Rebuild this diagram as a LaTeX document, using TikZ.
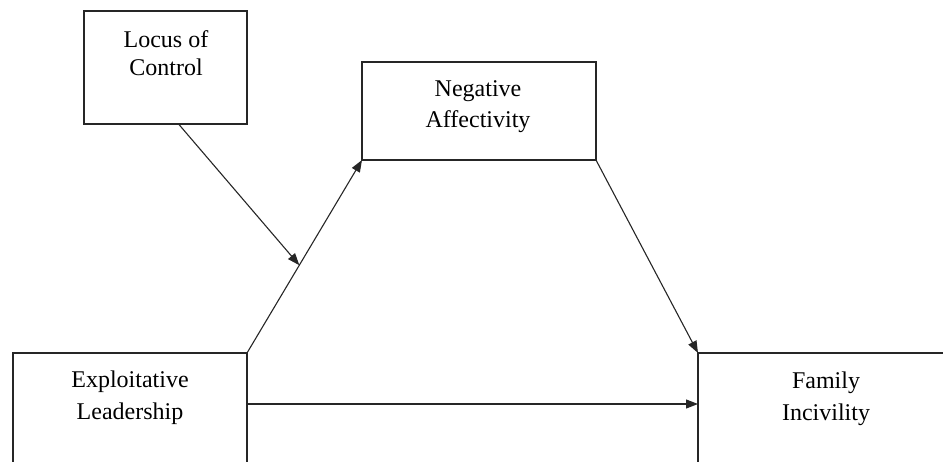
\documentclass[tikz,border=0pt]{standalone}
\usepackage{fontspec}
\setmainfont{Liberation Serif}
\usetikzlibrary{arrows.meta,calc}
\begin{document}
\begin{tikzpicture}[x=1pt,y=-1pt,
  box/.style={draw=black!85, line width=1.1pt, inner sep=0pt, outer sep=0pt, rectangle},
  lbl/.style={anchor=base, inner sep=0pt, font=\fontsize{24}{30}\selectfont, text=black},
  arr/.style={draw=black!85, line width=1.1pt, -{Triangle[length=12pt,width=9pt]}}]
\useasboundingbox (0,0) rectangle (943,461);
\clip (0,0) rectangle (943,461);
% boxes
\node[box, minimum width=163pt, minimum height=113pt] (loc) at (165.5,67.5) {};
\node[box, minimum width=234pt, minimum height=98pt] (neg) at (479,111) {};
\node[box, minimum width=234pt, minimum height=120pt] (exp) at (130,413) {};
\node[box, minimum width=258pt, minimum height=120pt] (fam) at (827,413) {};
% texts
\node[lbl] (loct1) at (166,47) {Locus of};
\node[lbl] (loct2) at (166,75) {Control};
\node[lbl] (negt1) at (478,96) {Negative};
\node[lbl] (negt2) at (478,127) {Affectivity};
\node[lbl] (expt1) at (130,387) {Exploitative};
\node[lbl] (expt2) at (130,419) {Leadership};
\node[lbl] (famt1) at (826,388) {Family};
\node[lbl] (famt2) at (826,420) {Incivility};
% connectors
\coordinate (m) at ($(exp.north east)!0.455!(neg.south west)$);
\draw[arr] (exp.north east) -- (neg.south west);
\draw[arr] ($(loc.south west)!0.58!(loc.south east)$) -- (m);
\draw[arr] (neg.south east) -- (fam.north west);
\draw[arr] ($(exp.north east)+(0,51)$) -- ($(fam.north west)+(0,51)$);
\end{tikzpicture}
\end{document}
